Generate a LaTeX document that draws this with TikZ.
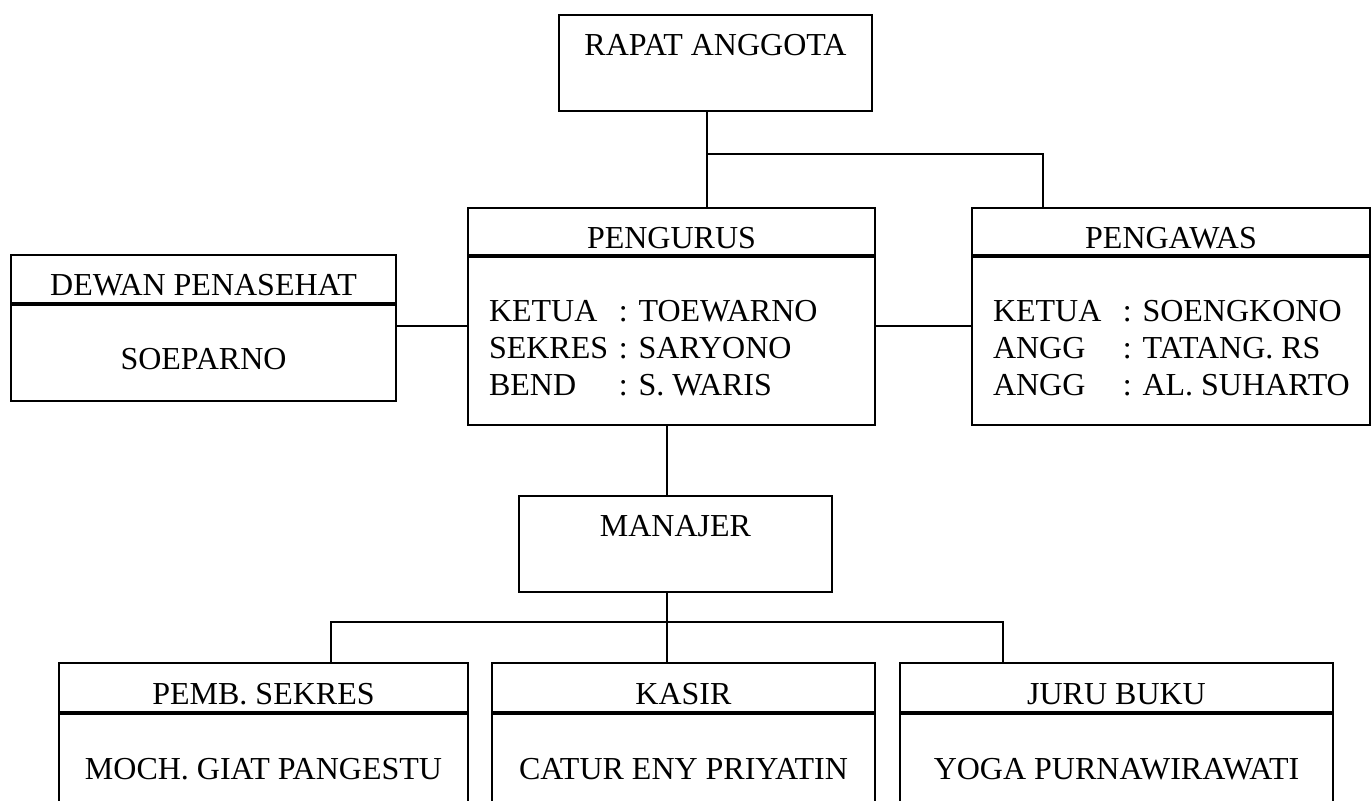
\documentclass[tikz,border=0pt]{standalone}
\usepackage{fontspec}
\setmainfont{Liberation Serif}
\usepackage{tikz}

\newcommand{\jabatan}[2]{\makebox[65pt][l]{#1}: #2}

\begin{document}
\begin{tikzpicture}[x=0.5pt, y=-0.5pt,
                    font=\fontsize{16}{18.5}\selectfont,
                    box/.style={draw, line width=1pt, inner sep=0pt, anchor=north west},
                    head/.style={box, text height=17pt, text depth=0pt},
                    body/.style={box, minimum height=48pt, text height=17pt, text depth=0pt},
                    topbox/.style={box, minimum width=156.5pt, minimum height=48pt,
                                   text height=10pt, text depth=17.5pt},
                    listbox/.style={box, minimum height=84pt, text height=13pt, text depth=32pt},
                    link/.style={line width=0.8pt}
                    ]
    \useasboundingbox (0,0) rectangle (1371,801);

    % junctions of the connectors
    \coordinate (j-top)   at (707,154);
    \coordinate (j-pgw)   at (1043,154);
    \coordinate (j-side)  at (0,326);
    \coordinate (j-mgr)   at (667,622);
    \coordinate (j-left)  at (331,622);
    \coordinate (j-right) at (1003,622);

    \node[topbox] (rapat) at (558,14) {RAPAT ANGGOTA};

    \node[head, minimum width=203.5pt, minimum height=23.5pt] (pgr-head) at (467,207) {PENGURUS};
    \node[listbox, minimum width=203.5pt] (pgr-body) at (pgr-head.south west)
        {\makebox[182.5pt][l]{\begin{tabular}[t]{@{}l@{}}
            \jabatan{KETUA}{TOEWARNO}\\
            \jabatan{SEKRES}{SARYONO}\\
            \jabatan{BEND}{S. WARIS}
        \end{tabular}}};

    \node[head, minimum width=199pt, minimum height=23.5pt] (pgw-head) at (971,207) {PENGAWAS};
    \node[listbox, minimum width=199pt] (pgw-body) at (pgw-head.south west)
        {\makebox[178pt][l]{\begin{tabular}[t]{@{}l@{}}
            \jabatan{KETUA}{SOENGKONO}\\
            \jabatan{ANGG}{TATANG. RS}\\
            \jabatan{ANGG}{AL. SUHARTO}
        \end{tabular}}};

    \node[head, minimum width=192.5pt, minimum height=24pt] (dwn-head) at (10,254) {DEWAN PENASEHAT};
    \node[body, minimum width=192.5pt] (dwn-body) at (dwn-head.south west) {SOEPARNO};

    \node[topbox] (mgr) at (518,495) {MANAJER};

    \node[head, minimum width=204.5pt, minimum height=24.5pt] (b1-head) at (58,662) {PEMB. SEKRES};
    \node[body, minimum width=204.5pt] (b1-body) at (b1-head.south west) {MOCH. GIAT PANGESTU};
    \node[head, minimum width=191.5pt, minimum height=24.5pt] (b2-head) at (491,662) {KASIR};
    \node[body, minimum width=191.5pt] (b2-body) at (b2-head.south west) {CATUR ENY PRIYATIN};
    \node[head, minimum width=216.5pt, minimum height=24.5pt] (b3-head) at (899,662) {JURU BUKU};
    \node[body, minimum width=216.5pt] (b3-body) at (b3-head.south west) {YOGA PURNAWIRAWATI};

    \draw[link] (rapat.south -| j-top) -- (pgr-head.north -| j-top);
    \draw[link] (j-top) -- (j-pgw) -- (pgw-head.north -| j-pgw);
    \draw[link] (dwn-body.east |- j-side) -- (pgr-body.west |- j-side);
    \draw[link] (pgr-body.east |- j-side) -- (pgw-body.west |- j-side);
    \draw[link] (pgr-body.south -| j-mgr) -- (mgr.north -| j-mgr);
    \draw[link] (mgr.south -| j-mgr) -- (b2-head.north -| j-mgr);
    \draw[link] (b1-head.north -| j-left) -- (j-left) -- (j-right) -- (b3-head.north -| j-right);
\end{tikzpicture}
\end{document}
